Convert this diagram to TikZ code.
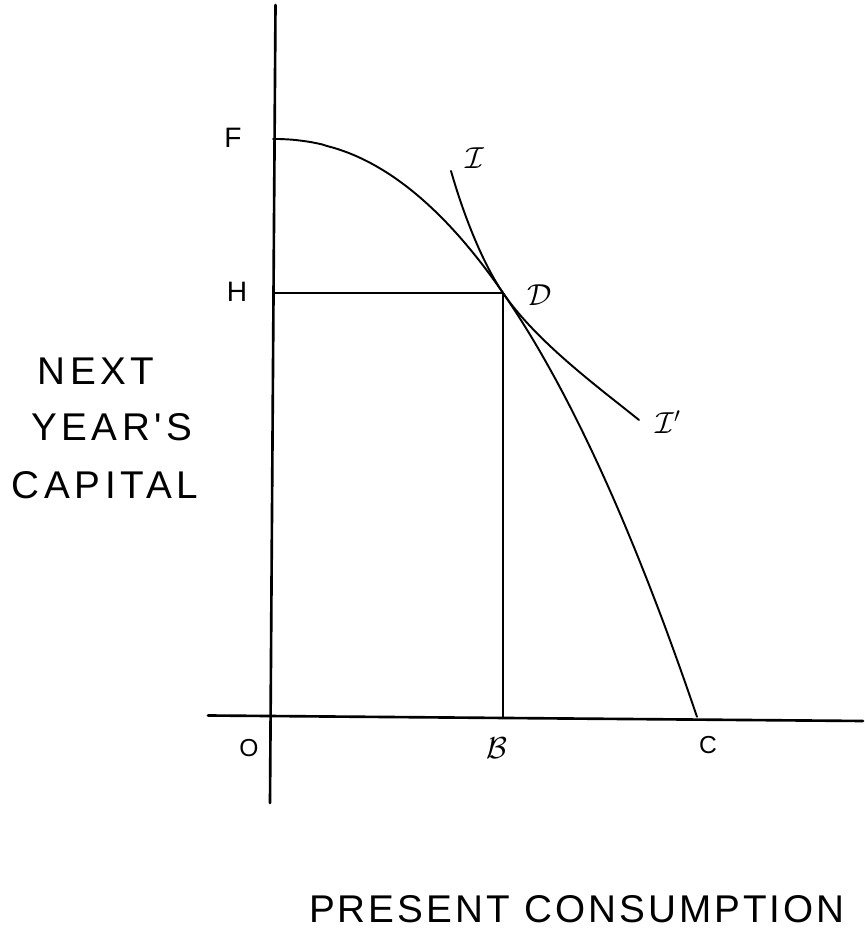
\documentclass[tikz,border=0pt]{standalone}
\usepackage{fontspec}
\newfontfamily\handfont[LetterSpace=12]{Liberation Sans}
\newfontfamily\wordfont[LetterSpace=8]{Liberation Sans}
\newfontfamily\markfont{Liberation Sans}
\begin{document}
\begin{tikzpicture}[line cap=round, line join=round,
  axis/.style={line width=1.5pt},
  curve/.style={line width=1.1pt},
  ptlbl/.style={font=\markfont\fontsize{16}{18}\selectfont, inner sep=0pt},
  smlbl/.style={font=\markfont\fontsize{14}{16}\selectfont, inner sep=0pt},
  callbl/.style={font=\fontsize{18}{20}\selectfont, inner sep=0pt},
  axlbl/.style={font=\handfont\fontsize{22}{24}\selectfont, inner sep=0pt}]
\useasboundingbox (-5.46,-4.26) rectangle (11.82,14.34);
% key points
\coordinate (O) at (0,0);
\coordinate (ytop) at (0.05,14.24);
\coordinate (ybot) at (-0.06,-1.72);
\coordinate (xleft) at (-1.30,0.03);
\coordinate (xright) at (11.80,-0.08);
\coordinate (F) at (0,11.56);
\coordinate (H) at (0,8.48);
\coordinate (D) at (4.6,8.48);
\coordinate (B) at (4.6,0);
\coordinate (C) at (8.48,-0.02);
\coordinate (Itop) at (3.56,10.92);
\coordinate (Iend) at (7.32,5.94);
% axes
\draw[axis] (ybot) -- (ytop);
\draw[axis] (xleft) -- (xright);
% production frontier F-D-C
\draw[curve] (F) -- plot[domain=0.01:8.48, samples=80, smooth] (\x, {11.56*(1-pow(\x/8.48,2.163))});
% indifference curve I-D-I'
\draw[curve] (Itop) .. controls (3.78,10.15) and (4.15,9.14) .. (D)
  .. controls (5.28,7.49) and (6.54,6.57) .. (Iend);
% D projected on the axes
\draw[curve] (H) -- (D) -- (B);
% labels
\node[ptlbl] (lF) at (-0.80,11.58) {F};
\node[ptlbl] (lH) at (-0.72,8.50) {H};
\node[callbl] (lI) at (4.04,11.18) {$\mathcal{I}$};
\node[callbl] (lD) at (5.34,8.44) {$\mathcal{D}$};
\node[callbl] (lI2) at (7.90,5.90) {$\mathcal{I}'$};
\node[smlbl] (lO) at (-0.48,-0.62) {O};
\node[callbl] (lB) at (4.48,-0.62) {$\mathcal{B}$};
\node[smlbl] (lC) at (8.70,-0.56) {C};
\node[axlbl] (next) at (-3.54,6.92) {NEXT};
\node[axlbl] (year) at (-3.22,5.80) {YEAR'S};
\node[axlbl] (capital) at (-3.36,4.64) {CAPITAL};
\node[font=\wordfont\fontsize{22}{24}\selectfont, inner sep=0pt] (present) at (6.08,-3.84) {PRESENT CONSUMPTION};
\end{tikzpicture}
\end{document}
